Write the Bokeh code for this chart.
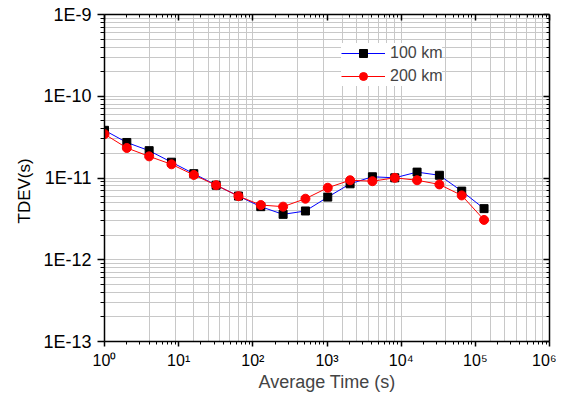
from bokeh.plotting import figure
from bokeh.models import FixedTicker, LogAxis, Legend, LegendItem, Range1d, Title
from bokeh.embed import file_html
from bokeh.resources import INLINE

# ---- data ----
tau = [1, 2, 4, 8, 16, 32, 64, 128, 256, 512, 1024, 2048, 4096, 8192,
       16384, 32768, 65536, 131072]
tdev_100km = [3.83e-11, 2.72e-11, 2.16e-11, 1.56e-11, 1.13e-11, 8.17e-12,
              6.01e-12, 4.46e-12, 3.59e-12, 3.95e-12, 5.84e-12, 8.49e-12,
              1.035e-11, 1.005e-11, 1.18e-11, 1.08e-11, 6.91e-12, 4.22e-12]
tdev_200km = [3.44e-11, 2.33e-11, 1.84e-11, 1.47e-11, 1.09e-11, 8.17e-12,
              6.0e-12, 4.67e-12, 4.46e-12, 5.58e-12, 7.6e-12, 9.39e-12,
              9.14e-12, 1.005e-11, 9.39e-12, 8.34e-12, 6.12e-12, 3.07e-12]

x_ticks = [1, 10, 100, 1000, 10000, 100000, 1000000]
x_tick_labels = ["10\u2070", "10\u00b9", "10\u00b2", "10\u00b3", "10\u2074", "10\u2075", "10\u2076"]
y_ticks = [1e-13, 1e-12, 1e-11, 1e-10, 1e-9]
y_tick_labels = ["1E-13", "1E-12", "1E-11", "1E-10", "1E-9"]

FONT = "Liberation Sans"
GRID = "#c8c8c8"

x_minor = [m * d for d in x_ticks[:-1] for m in range(2, 10)]
y_minor = [m * d for d in y_ticks[:-1] for m in range(2, 10)]
# vertical grid in the reference follows a 3-decade log layout spread over the 6-decade axis
vgrid = [(m * d) ** 2 for d in (1, 10, 100) for m in range(2, 11)]

p = figure(width=556, height=394, x_axis_type="log", y_axis_type="log",
           x_range=Range1d(1, 1e6), y_range=Range1d(1e-13, 1e-9),
           output_backend="svg", toolbar_location=None,
           min_border_left=104, min_border_right=7, min_border_top=14,
           min_border_bottom=51)
p.outline_line_color = None
p.background_fill_color = "white"
p.border_fill_color = "white"

def style_axis(ax, inward=False):
    ax.axis_line_width = 1.5
    ax.axis_line_color = "black"
    ax.major_tick_line_color = "black"
    ax.minor_tick_line_color = "black"
    ax.major_tick_line_width = 1.5
    ax.minor_tick_line_width = 1
    if inward:
        ax.major_tick_in, ax.major_tick_out = 6, 0
        ax.minor_tick_in, ax.minor_tick_out = 3, 0
    ax.major_label_text_font = FONT
    ax.axis_label_text_font = FONT
    ax.axis_label_text_font_style = "normal"
    ax.major_label_text_color = "black"

xt = FixedTicker(ticks=x_ticks, minor_ticks=x_minor)
yt = FixedTicker(ticks=y_ticks, minor_ticks=y_minor)

bx = p.xaxis[0]
bx.ticker = xt
bx.major_label_overrides = dict(zip(x_ticks, x_tick_labels))
style_axis(bx)
bx.major_tick_in, bx.major_tick_out = 0, 5
bx.minor_tick_in, bx.minor_tick_out = 0, 3
bx.major_label_text_font_size = "16px"
bx.major_label_standoff = 5
bx.axis_label = "Average Time (s)"
bx.axis_label_text_font_size = "18px"
bx.axis_label_standoff = 0

ly = p.yaxis[0]
ly.ticker = yt
ly.major_label_overrides = dict(zip(y_ticks, y_tick_labels))
style_axis(ly)
ly.major_tick_in, ly.major_tick_out = 0, 7
ly.minor_tick_in, ly.minor_tick_out = 0, 4
ly.major_label_text_font_size = "18px"
ly.major_label_standoff = 6

# y-axis title, as a side title so it can sit a little below the frame centre
ytitle = Title(text="TDEV(s)", align="left", offset=118, standoff=14,
               text_font=FONT, text_font_size="17px", text_font_style="normal",
               text_color="black")
p.add_layout(ytitle, "left")

top = LogAxis(ticker=FixedTicker(ticks=x_ticks, minor_ticks=x_minor),
              major_label_overrides={t: "" for t in x_ticks})
style_axis(top, inward=True)
p.add_layout(top, "above")
right = LogAxis(ticker=FixedTicker(ticks=y_ticks, minor_ticks=y_minor),
                major_label_overrides={t: "" for t in y_ticks})
style_axis(right, inward=True)
p.add_layout(right, "right")

g = p.xgrid[0]
g.ticker = FixedTicker(ticks=vgrid)
g.grid_line_color = GRID
g.grid_line_width = 1
hg = p.ygrid[0]
hg.ticker = FixedTicker(ticks=y_ticks, minor_ticks=y_minor)
hg.grid_line_color = GRID
hg.minor_grid_line_color = GRID

l1 = p.line(tau, tdev_100km, line_color="#0000ff", line_width=1)
s1 = p.scatter(tau, tdev_100km, marker="square", size=8, fill_color="black", line_color="black")
l2 = p.line(tau, tdev_200km, line_color="#ff0000", line_width=1)
s2 = p.scatter(tau, tdev_200km, marker="circle", size=9, fill_color="#ff0000", line_color="#ff0000")

legend = Legend(items=[LegendItem(label="100 km", renderers=[l1, s1]),
                       LegendItem(label="200 km", renderers=[l2, s2])],
                location=(237, 255), margin=0, padding=5, spacing=3,
                glyph_width=44, glyph_height=20, label_height=20,
                label_standoff=5, label_text_font=FONT,
                label_text_font_size="16px", border_line_color=None,
                background_fill_color="white", background_fill_alpha=1)
p.add_layout(legend, "center")

open("out.html", "w").write(file_html(p, INLINE))
